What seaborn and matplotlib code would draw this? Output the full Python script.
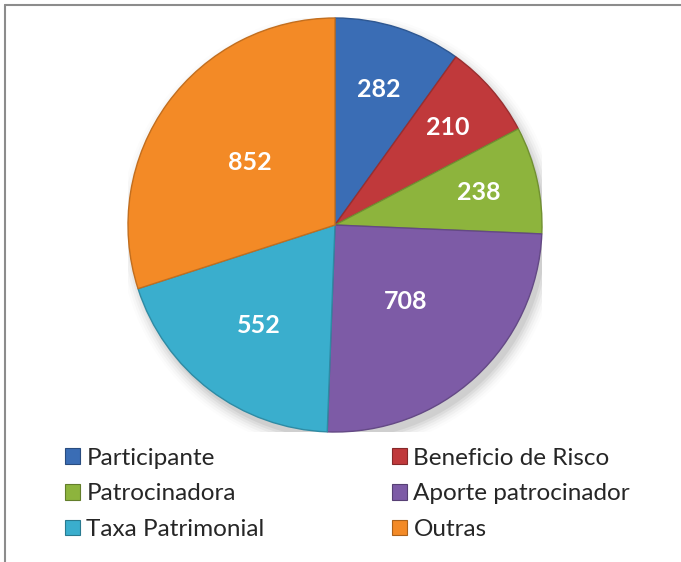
import matplotlib
matplotlib.use("Agg")
import numpy as np
from matplotlib import pyplot as plt
from matplotlib.lines import Line2D
from matplotlib.patches import Patch
import matplotlib.colors as mcolors
import seaborn as sns

categories = ["Participante", "Beneficio de Risco", "Patrocinadora",
              "Aporte patrocinador", "Taxa Patrimonial", "Outras"]
values = [282, 210, 238, 708, 552, 852]
colors = ["#3a6db5", "#c0393b", "#8db43d", "#7d5ba6", "#3aaecd", "#f38a26"]
label_dist = [0.69, 0.72, 0.71, 0.50, 0.61, 0.51]

sns.set_theme(style="white")
plt.rcParams["font.family"] = ["Lato", "DejaVu Sans"]

W, H = 681, 562
fig = plt.figure(figsize=(W / 100, H / 100), dpi=100)

# pie placement (centre 335,225 px, radius 207 px)
cx, cy, r = 335, 225, 207
ax = fig.add_axes([(cx - r) / W, (H - cy - r) / H, 2 * r / W, 2 * r / H])


def darker(c, f=0.75):
    rgb = np.array(mcolors.to_rgb(c))
    return tuple(rgb * f)


# soft shadow under the pie
for i, a in enumerate(np.linspace(0.05, 0.01, 6)):
    ax.add_patch(plt.Circle((0.02, -0.035), 1.0 + 0.012 * i, color="black",
                            alpha=a, lw=0, zorder=0))

wedges, _ = ax.pie(values, colors=colors, startangle=90, counterclock=False,
                   radius=1.0,
                   wedgeprops=dict(edgecolor="none", linewidth=0, zorder=2))
for w, c in zip(wedges, colors):
    w.set_edgecolor(darker(c, 0.8))
    w.set_linewidth(1.0)

for w, v, d in zip(wedges, values, label_dist):
    ang = np.deg2rad((w.theta1 + w.theta2) / 2)
    ax.text(d * np.cos(ang), d * np.sin(ang), str(v), ha="center", va="center",
            color="white", fontsize=18, fontweight="bold", zorder=5)

ax.set_xlim(-1, 1)
ax.set_ylim(-1, 1)
ax.set_aspect("equal")
ax.axis("off")

# legend: two columns, row-major like the original
handles = [Patch(facecolor=c, edgecolor=darker(c, 0.7), linewidth=0.8) for c in colors]
leg_kw = dict(loc="center left", frameon=False, fontsize=17.5, handlelength=0.63,
              handleheight=0.63, handletextpad=0.25, labelspacing=0.6,
              borderaxespad=0, borderpad=0)
for col, x0 in zip([0, 1], [65, 392]):
    idx = [col, col + 2, col + 4]
    fig.legend([handles[i] for i in idx], [categories[i] for i in idx],
               bbox_to_anchor=(x0 / W, 1 - 494 / H), **leg_kw)

# chart border (top and left visible)
fig.add_artist(Line2D([5 / W, 5 / W], [0, 1 - 5 / H], color="#8c8c8c", lw=1.5))
fig.add_artist(Line2D([5 / W, 1], [1 - 5 / H, 1 - 5 / H], color="#8c8c8c", lw=1.5))

fig.savefig("out.png", dpi=100)
